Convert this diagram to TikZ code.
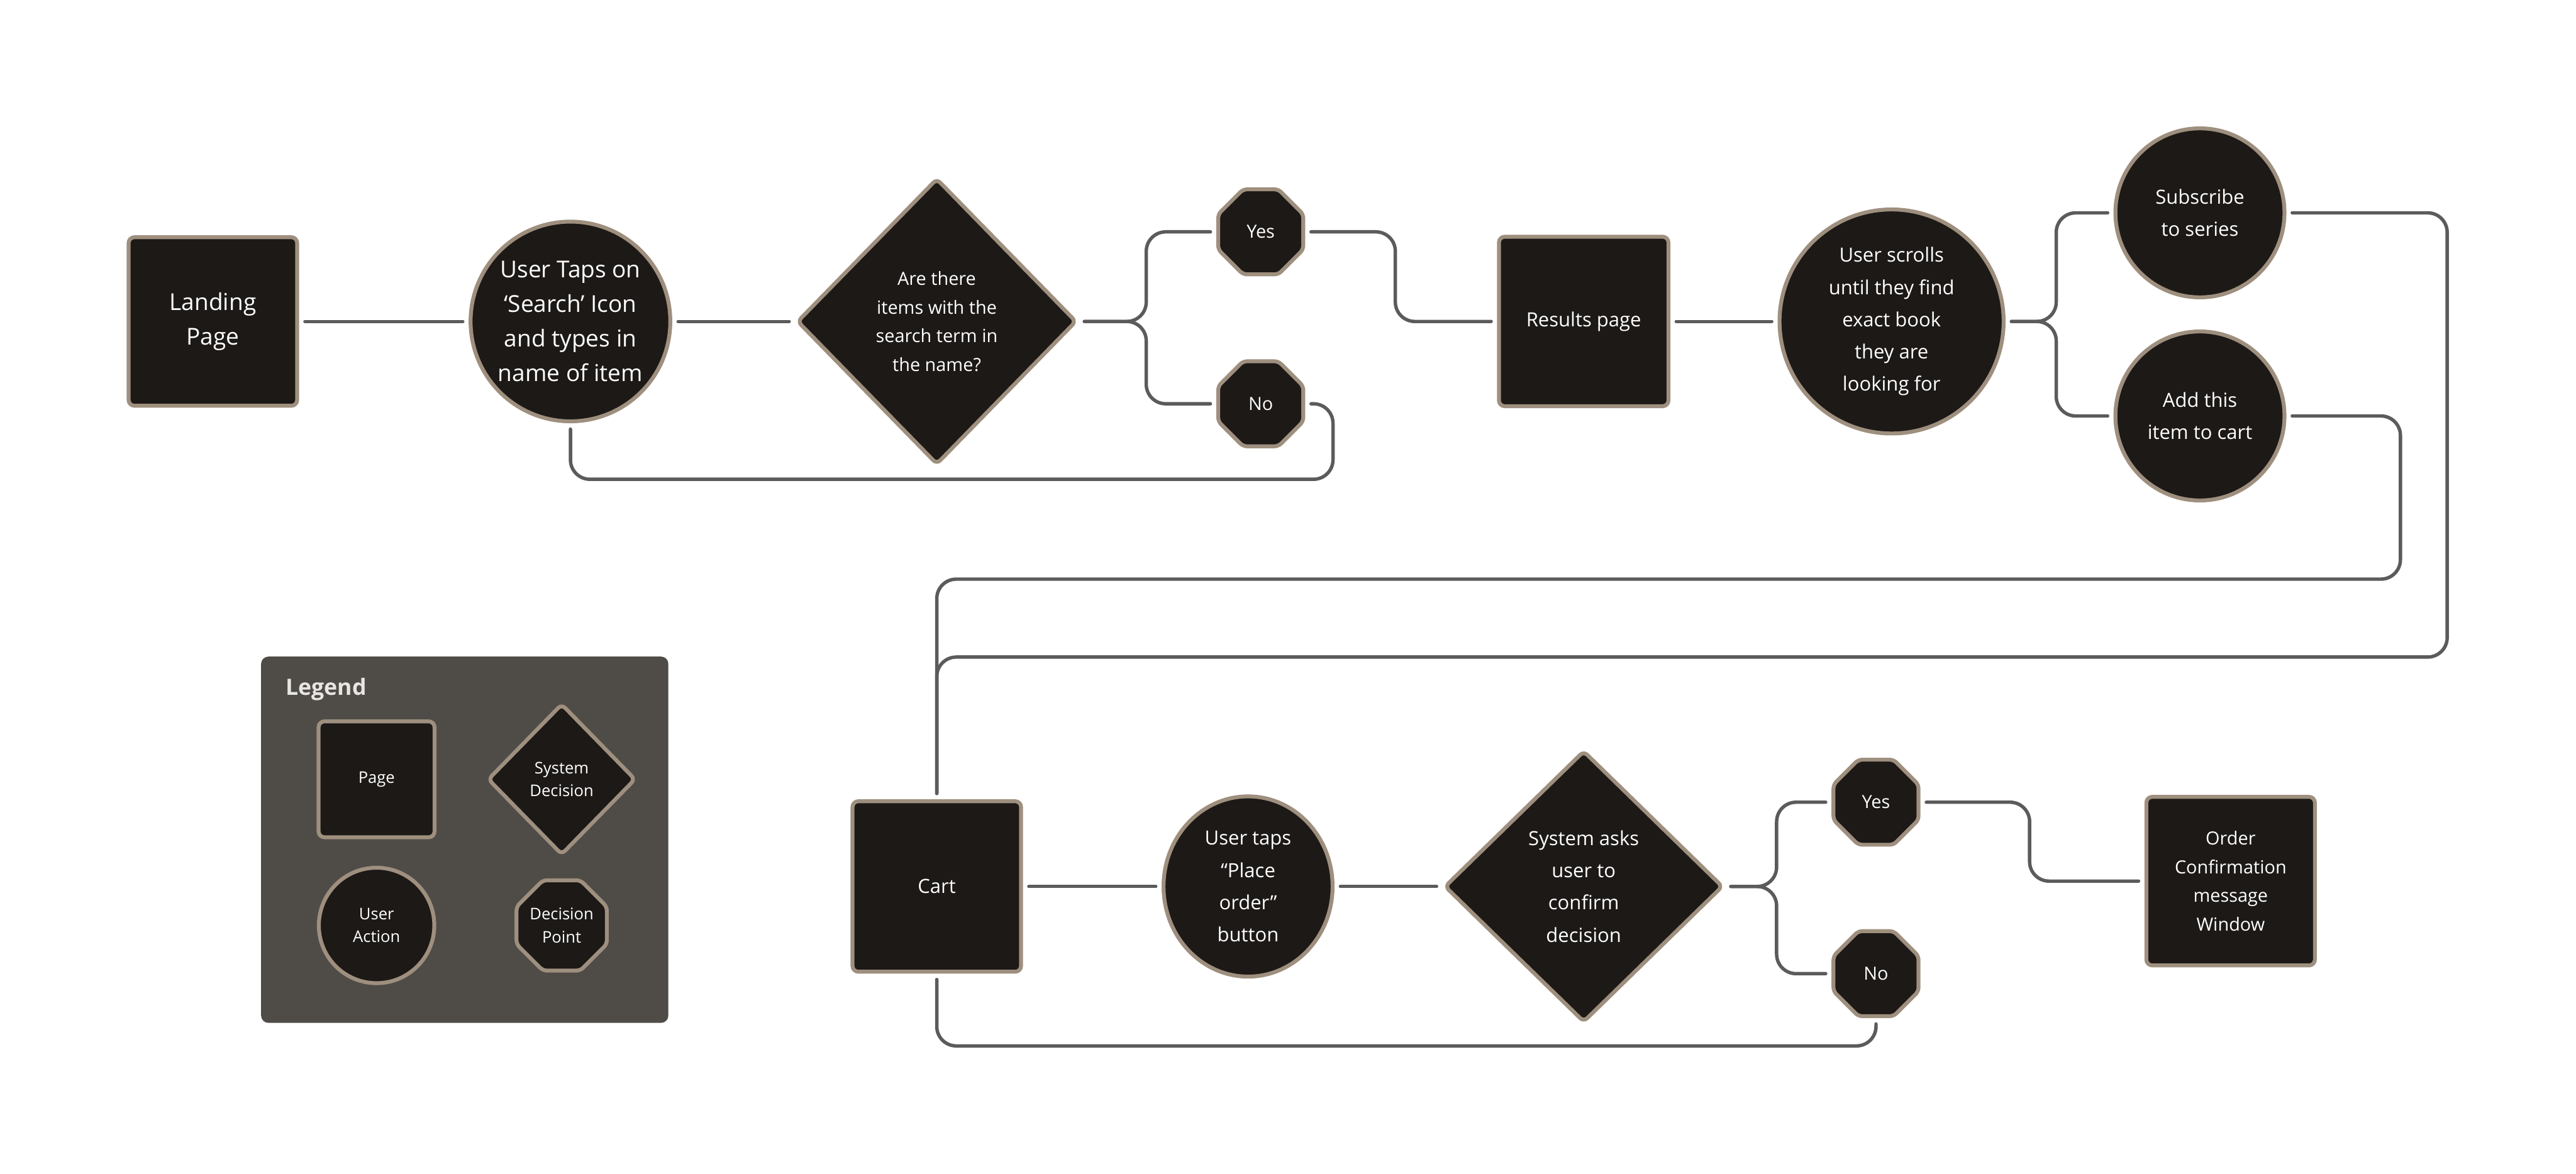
\documentclass[tikz,border=0pt]{standalone}
\usepackage{fontspec}
\setmainfont{Open Sans}
\usepackage{tikz}
\usetikzlibrary{shapes.geometric,positioning}

\definecolor{ink}{HTML}{1C1917}
\definecolor{edge}{HTML}{9E8F7E}
\definecolor{wire}{HTML}{5B5B5B}
\definecolor{panel}{HTML}{4F4C48}
\definecolor{paper}{HTML}{E8E6E3}

\newcommand{\flowbig}{\fontsize{13.6}{20.2}\selectfont}
\newcommand{\flowmid}{\fontsize{11.4}{18.8}\selectfont}
\newcommand{\flowsmall}{\fontsize{10.6}{16.8}\selectfont}
\newcommand{\flowtiny}{\fontsize{9.4}{13.4}\selectfont}
\newcommand{\flowtitle}{\fontsize{13.1}{16}\selectfont}

\begin{document}
\begin{tikzpicture}[
        x=1cm, y=-1cm,
        node distance=6cm, on grid,
        shapebase/.style={draw=edge, fill=ink, line width=0.8mm, text=white, align=center, inner sep=0pt},
        page/.style={shapebase, rectangle, rounded corners=1.2mm, minimum width=3.46cm, minimum height=3.46cm, font=\flowmid},
        action/.style={shapebase, circle, minimum size=3.47cm, font=\flowmid},
        sysdecision/.style={shapebase, diamond, rounded corners=1mm, font=\flowsmall},
        choice/.style={shapebase, regular polygon, regular polygon sides=8, rounded corners=0.8mm, minimum size=1.89cm, font=\flowsmall},
        link/.style={draw=wire, line width=0.7mm, line cap=round, rounded corners=4mm, shorten <=1.2mm, shorten >=1.2mm}
    ]

    \path[use as bounding box, fill=white] (0,0) rectangle (52.88,24.10);

    % Top row
    \node[page, font=\flowbig] (landing) at (4.37,6.60) {Landing\\Page};
    \node[action, minimum size=4.10cm, font=\flowbig, right=7.34cm of landing] (taps) {User Taps on\\‘Search’ Icon\\and types in\\name of item};
    \node[sysdecision, minimum width=5.74cm, minimum height=5.88cm, right=7.52cm of taps] (search) {Are there\\items with the\\search term in\\the name?};
    \node[choice, above right=1.84cm and 6.65cm of search] (yes1) {Yes};
    \node[choice, below right=1.69cm and 6.65cm of search] (no1) {No};
    \node[page, minimum width=3.48cm, minimum height=3.48cm, right=13.28cm of search] (results) {Results page};
    \node[action, minimum size=4.60cm, right=6.32cm of results] (scrolls) {User scrolls\\until they find\\exact book\\they are\\looking for};
    \node[action, above right=2.23cm and 6.33cm of scrolls] (subscribe) {Subscribe\\to series};
    \node[action, below right=1.94cm and 6.33cm of scrolls] (addcart) {Add this\\item to cart};

    % Bottom row
    \node[page, minimum height=3.50cm, below=11.60cm of search] (cart) {Cart};
    \node[action, ellipse, minimum width=3.47cm, minimum height=3.70cm, right=6.39cm of cart] (place) {User taps\\“Place\\order”\\button};
    \node[sysdecision, minimum width=5.72cm, minimum height=5.58cm, font=\flowmid, right=6.89cm of place] (confirm) {System asks\\user to\\confirm\\decision};
    \node[choice, above right=1.73cm and 6.00cm of confirm] (yes2) {Yes};
    \node[choice, below right=1.79cm and 6.00cm of confirm] (no2) {No};
    \node[page, font=\flowsmall, above right=0.11cm and 13.28cm of confirm] (order) {Order\\Confirmation\\message\\Window};

    % Legend
    \node[fill=panel, rounded corners=1.5mm, minimum width=8.36cm, minimum height=7.52cm] (legend) at (9.54,17.24) {};
    \node[anchor=base west, inner sep=0pt, text=paper, font=\flowtitle\bfseries] (legendtitle) at (5.86,14.27) {Legend};
    \node[page, minimum width=2.38cm, minimum height=2.38cm, font=\flowtiny] (lpage) at (7.73,16.00) {Page};
    \node[sysdecision, minimum width=3.04cm, minimum height=3.11cm, font=\flowtiny, right=3.80cm of lpage] (lsystem) {System\\Decision};
    \node[action, minimum size=2.37cm, font=\flowtiny, below=3.00cm of lpage] (luser) {User\\Action};
    \node[choice, minimum size=1.95cm, font=\flowtiny, below=3.00cm of lsystem] (lpoint) {Decision\\Point};

    % Top row links
    \draw[link] (landing) -- (taps);
    \draw[link] (taps) -- (search);
    \draw[link] (search.east) -- ++(1.39,0) |- (yes1.west);
    \draw[link] (search.east) -- ++(1.39,0) |- (no1.west);
    \draw[link] (yes1.east) -- ++(1.85,0) |- (results.west);
    \draw[link] (no1.east) -- ++(0.57,0) -- ++(0,1.55) -| (taps.south);
    \draw[link] (results) -- (scrolls);
    \draw[link] (scrolls.east) -- ++(1.04,0) |- (subscribe.west);
    \draw[link] (scrolls.east) -- ++(1.04,0) |- (addcart.west);

    % Back down to the cart
    \draw[link] (subscribe.east) -- ++(3.30,0) -- ++(0,9.12) -| (cart.north);
    \draw[link] (addcart.east) -- ++(2.34,0) -- ++(0,3.35) -| (cart.north);

    % Bottom row links
    \draw[link] (cart) -- (place);
    \draw[link] (place) -- (confirm);
    \draw[link] (confirm.east) -- ++(1.06,0) |- (yes2.west);
    \draw[link] (confirm.east) -- ++(1.06,0) |- (no2.west);
    \draw[link] (yes2.east) -- ++(2.24,0) |- (order.west);
    \draw[link] (no2.south) -- ++(0,0.57) -| (cart.south);

\end{tikzpicture}
\end{document}
